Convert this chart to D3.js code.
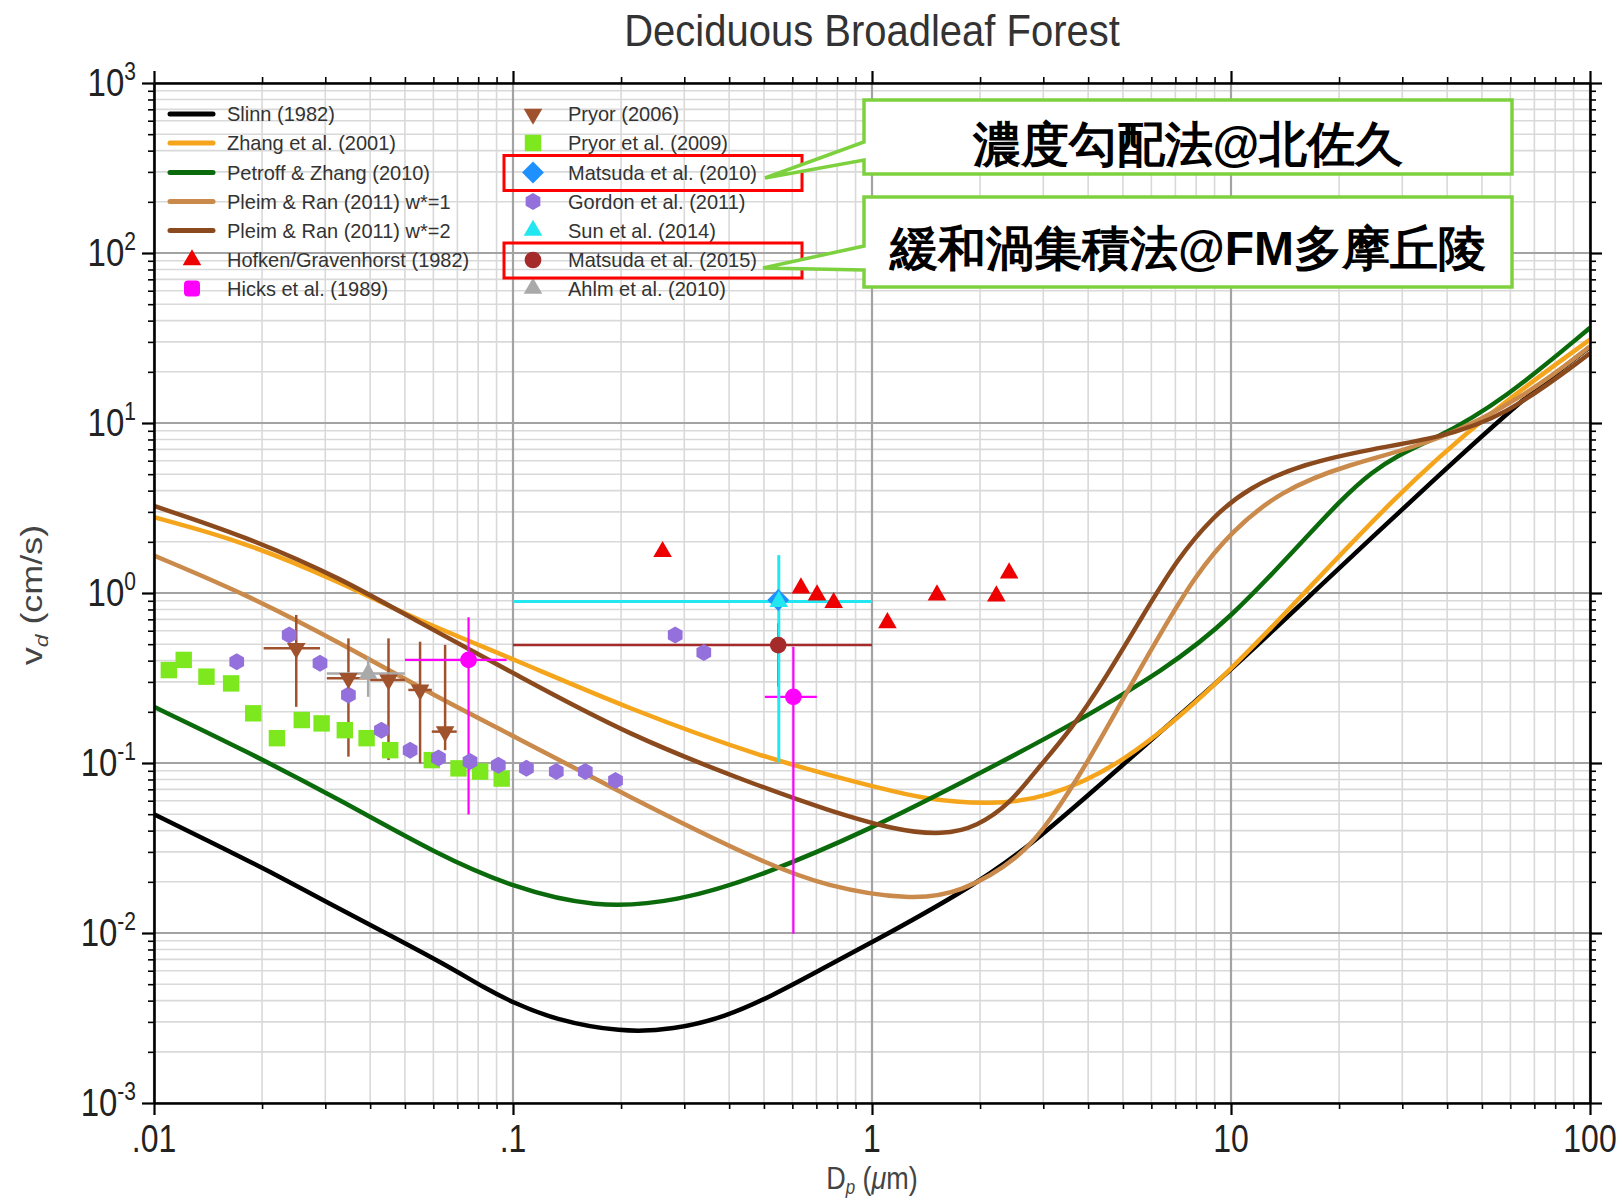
<!DOCTYPE html>
<html>
<head>
<meta charset="utf-8">
<script src="https://cdn.jsdelivr.net/npm/d3@7"></script>
<style>
  html, body { margin: 0; padding: 0; background: #fff; }
  svg { display: block; }
  text { font-family: "Liberation Sans", Arial, Helvetica, sans-serif; }
</style>
</head>
<body>
<div id="chart"></div>
<script>
// model curves, [Dp (um), vd (cm/s)]
const slinn = [[0.01,0.050],[0.0145,0.034],[0.021,0.023],[0.031,0.0148],[0.045,0.0098],[0.065,0.0065],[0.084,0.0047],[0.1,0.0039],[0.13,0.0031],[0.2,0.0026],[0.28,0.0027],[0.39,0.0032],[0.53,0.0043],[0.72,0.0061],[1.0,0.0088],[1.76,0.017],[2.7,0.031],[5.0,0.098],[10,0.35],[17.7,1.1],[37,4.7],[66,14.3],[100,28]];
const zhang = [[0.01,2.79],[0.018,1.99],[0.0333,1.15],[0.0543,0.69],[0.1,0.41],[0.21,0.208],[0.5,0.107],[0.93,0.076],[1.42,0.0605],[2.15,0.057],[3.05,0.0617],[5.0,0.098],[8.9,0.272],[15.7,0.955],[28,3.52],[50,10.7],[100,31]];
const petroff = [[0.01,0.214],[0.018,0.118],[0.0333,0.06],[0.0615,0.029],[0.1,0.0185],[0.169,0.014],[0.285,0.0152],[0.5,0.0219],[1.0,0.0413],[1.76,0.0759],[3.34,0.153],[6.68,0.362],[10,0.714],[15.7,1.97],[24.9,5.71],[37.2,8.02],[57.3,13.6],[100,36.3]];
const pleim1 = [[0.01,1.66],[0.018,0.986],[0.0333,0.504],[0.0615,0.243],[0.1,0.145],[0.21,0.0632],[0.488,0.0263],[0.748,0.0187],[1.28,0.0156],[1.76,0.0171],[2.59,0.0275],[3.16,0.0468],[3.98,0.1],[5.01,0.24],[6.31,0.562],[7.94,1.26],[10,2.29],[13.7,3.98],[21,5.71],[37.2,7.64],[66.1,14.3],[100,28.2]];
const pleim2 = [[0.01,3.25],[0.018,2.15],[0.0333,1.22],[0.0543,0.676],[0.1,0.339],[0.21,0.145],[0.488,0.0726],[0.748,0.053],[1.15,0.0404],[1.58,0.0377],[1.96,0.0422],[2.43,0.058],[2.82,0.0871],[3.63,0.162],[4.47,0.316],[5.62,0.708],[7.08,1.585],[8.91,2.82],[11.2,4.17],[15.8,5.75],[25.1,7.08],[37.2,8.13],[57.3,10.7],[100,25.7]];

// measurements, [Dp, vd]
const hofken = [[0.261,1.75],[0.634,1.07],[0.703,0.973],[0.782,0.877],[1.104,0.668],[1.517,0.973],[2.22,0.96],[2.41,1.31]];
const pryor2009 = [[0.011,0.352],[0.0121,0.404],[0.014,0.322],[0.0164,0.294],[0.0189,0.196],[0.022,0.14],[0.0258,0.179],[0.0293,0.171],[0.034,0.156],[0.0391,0.14],[0.0455,0.119],[0.0594,0.104],[0.0705,0.093],[0.081,0.089],[0.093,0.081]];
const gordon = [[0.017,0.394],[0.0238,0.566],[0.029,0.386],[0.0348,0.251],[0.043,0.156],[0.0517,0.119],[0.062,0.107],[0.0759,0.102],[0.091,0.097],[0.109,0.093],[0.132,0.089],[0.159,0.089],[0.193,0.079],[0.283,0.566],[0.34,0.446]];
const matsuda2010 = [[0.548,0.91]];

// with error bars, [Dp, vd, DpLo, DpHi, vdLo, vdHi]
const pryor2006 = [[0.0249,0.473,0.0202,0.029,0.214,0.743],[0.0348,0.315,0.0303,0.04,0.109,0.541],[0.045,0.308,0.04,0.05,0.104,0.541],[0.0551,0.269,0.0511,0.0594,0.0996,0.517],[0.0647,0.153,0.0594,0.0697,0.119,0.495]];
const ahlm = [[0.0395,0.336,0.0303,0.05,0.245,0.422]];
const hicks = [[0.0752,0.404,0.05,0.096,0.0498,0.72],[0.604,0.245,0.503,0.702,0.0099,0.483]];
const sun = [[0.55,0.89,0.1,1.0,0.101,1.67]];
const matsuda2015 = [[0.548,0.494,0.1,1.0,0.281,0.664]];

const lineLabels = ["Slinn (1982)", "Zhang et al. (2001)", "Petroff & Zhang (2010)", "Pleim & Ran (2011) w*=1", "Pleim & Ran (2011) w*=2", "Hofken/Gravenhorst (1982)", "Hicks et al. (1989)"];
const pointLabels = ["Pryor (2006)", "Pryor et al. (2009)", "Matsuda et al. (2010)", "Gordon et al. (2011)", "Sun et al. (2014)", "Matsuda et al. (2015)", "Ahlm et al. (2010)"];
const xTickLabels = [".01", ".1", "1", "10", "100"];
const callouts = ["濃度勾配法@北佐久", "緩和渦集積法@FM多摩丘陵"];

const W = 1623, H = 1199;
const margin = { top: 83, right: 33, bottom: 96, left: 154 };

const x = d3.scaleLog().domain([0.01, 100]).range([margin.left, W - margin.right]);
const y = d3.scaleLog().domain([1e-3, 1e3]).range([H - margin.bottom, margin.top]);

const isMajor = d => Math.abs(Math.log10(d) - Math.round(Math.log10(d))) < 1e-6;

const svg = d3.select("#chart").append("svg")
    .attr("width", W)
    .attr("height", H)
    .attr("viewBox", `0 0 ${W} ${H}`);

svg.append("rect").attr("width", W).attr("height", H).attr("fill", "#fff");

svg.append("clipPath").attr("id", "plot")
  .append("rect")
    .attr("x", x.range()[0]).attr("y", y.range()[1])
    .attr("width", x.range()[1] - x.range()[0])
    .attr("height", y.range()[0] - y.range()[1]);

// grid
const xt = x.ticks(), yt = y.ticks();
const grid = svg.append("g");
grid.selectAll(".vmin").data(xt.filter(d => !isMajor(d))).join("line")
    .attr("x1", d => x(d)).attr("x2", d => x(d))
    .attr("y1", y.range()[1]).attr("y2", y.range()[0])
    .attr("stroke", "#d9d9d9").attr("stroke-width", 1.6);
grid.selectAll(".hmin").data(yt.filter(d => !isMajor(d))).join("line")
    .attr("y1", d => y(d)).attr("y2", d => y(d))
    .attr("x1", x.range()[0]).attr("x2", x.range()[1])
    .attr("stroke", "#d9d9d9").attr("stroke-width", 1.6);
grid.selectAll(".vmaj").data(xt.filter(isMajor)).join("line")
    .attr("x1", d => x(d)).attr("x2", d => x(d))
    .attr("y1", y.range()[1]).attr("y2", y.range()[0])
    .attr("stroke", "#a3a3a3").attr("stroke-width", 2.2);
grid.selectAll(".hmaj").data(yt.filter(isMajor)).join("line")
    .attr("y1", d => y(d)).attr("y2", d => y(d))
    .attr("x1", x.range()[0]).attr("x2", x.range()[1])
    .attr("stroke", "#a3a3a3").attr("stroke-width", 2.2);

// model curves
const line = d3.line()
    .x(d => x(d[0]))
    .y(d => y(d[1]))
    .curve(d3.curveBasis);

const models = [
  { data: slinn, color: "#000000" },
  { data: zhang, color: "#f5a51c" },
  { data: petroff, color: "#0b6a0b" },
  { data: pleim1, color: "#c98a4b" },
  { data: pleim2, color: "#8b4a1e" }
];

const curves = svg.append("g").attr("clip-path", "url(#plot)");
models.forEach(m => {
  curves.append("path")
      .datum(m.data)
      .attr("fill", "none")
      .attr("stroke", m.color)
      .attr("stroke-width", 4.5)
      .attr("stroke-linejoin", "round")
      .attr("d", line);
});

// error bars
function errorBars(rows, color, width) {
  const g = svg.append("g").attr("stroke", color).attr("stroke-width", width);
  rows.forEach(r => {
    g.append("line").attr("x1", x(r[2])).attr("x2", x(r[3])).attr("y1", y(r[1])).attr("y2", y(r[1]));
    g.append("line").attr("x1", x(r[0])).attr("x2", x(r[0])).attr("y1", y(r[4])).attr("y2", y(r[5]));
  });
}
errorBars(pryor2006, "#a0522d", 2.5);
errorBars(ahlm, "#a9a9a9", 2.5);
errorBars(hicks, "#ff00ff", 2.2);
errorBars(matsuda2015, "#a52a2a", 2.5);
errorBars(sun, "#22e6f0", 3);

// markers
function hexPath(r) {
  return d3.range(6).map(k => {
    const a = (-90 + 60 * k) * Math.PI / 180;
    return [r * Math.cos(a), r * Math.sin(a)];
  });
}
const hexLine = d3.line().curve(d3.curveLinearClosed);

const sym = {
  up: d3.symbol().type(d3.symbolTriangle).size(150),
  square: d3.symbol().type(d3.symbolSquare).size(270),
  circle: d3.symbol().type(d3.symbolCircle).size(220),
  diamond: d3.symbol().type(d3.symbolSquare).size(240)
};

function points(rows, kind, color) {
  const g = svg.append("g");
  rows.forEach(r => {
    const t = `translate(${x(r[0])},${y(r[1])})`;
    if (kind === "hex") {
      g.append("path").attr("d", hexLine(hexPath(8.5))).attr("transform", t).attr("fill", color);
    } else if (kind === "down") {
      g.append("path").attr("d", sym.up()).attr("transform", t + " rotate(180)").attr("fill", color);
    } else if (kind === "diamond") {
      g.append("path").attr("d", sym.diamond()).attr("transform", t + " rotate(45)").attr("fill", color);
    } else {
      g.append("path").attr("d", sym[kind]()).attr("transform", t).attr("fill", color);
    }
  });
}
points(pryor2009, "square", "#7de81e");
points(gordon, "hex", "#9370db");
points(pryor2006, "down", "#a0522d");
points(ahlm, "up", "#a9a9a9");
points(hicks, "circle", "#ff00ff");
points(matsuda2015, "circle", "#a52a2a");
points(matsuda2010, "diamond", "#1e90ff");
points(sun, "up", "#22e6f0");
points(hofken, "up", "#ee0000");

// axes: ticks outward on all four sides
const xMaj = xt.filter(isMajor), xMin = xt.filter(d => !isMajor(d));
const yMaj = yt.filter(isMajor), yMin = yt.filter(d => !isMajor(d));
const axes = [
  [d3.axisBottom(x), `translate(0,${y.range()[0]})`, xMaj, xMin],
  [d3.axisTop(x), `translate(0,${y.range()[1]})`, xMaj, xMin],
  [d3.axisLeft(y), `translate(${x.range()[0]},0)`, yMaj, yMin],
  [d3.axisRight(y), `translate(${x.range()[1]},0)`, yMaj, yMin]
];
axes.forEach(([ax, tr, maj, min]) => {
  svg.append("g").attr("transform", tr)
      .call(ax.tickValues(min).tickSizeInner(6).tickSizeOuter(0).tickFormat(""))
      .call(g => g.selectAll("line").attr("stroke", "#000").attr("stroke-width", 1.6))
      .call(g => g.select(".domain").remove());
  svg.append("g").attr("transform", tr)
      .call(ax.tickValues(maj).tickSizeInner(12).tickSizeOuter(0).tickFormat(""))
      .call(g => g.selectAll("line").attr("stroke", "#000").attr("stroke-width", 2.2))
      .call(g => g.select(".domain").attr("stroke", "#000").attr("stroke-width", 2.6));
});

// tick labels (the source figure is stretched vertically)
const labels = svg.append("g").attr("fill", "#222");
xMaj.forEach((d, i) => {
  labels.append("text")
      .attr("transform", `translate(${x(d)},1152) scale(1,1.2)`)
      .attr("text-anchor", "middle")
      .attr("font-size", 32)
      .text(xTickLabels[i]);
});
yMaj.forEach(d => {
  const t = labels.append("text")
      .attr("transform", `translate(136,${y(d) + 13}) scale(1,1.2)`)
      .attr("text-anchor", "end")
      .attr("font-size", 33);
  t.append("tspan").text("10");
  t.append("tspan").attr("font-size", 21).attr("dy", -13).text(String(Math.round(Math.log10(d))));
});

// axis titles
const xTitle = svg.append("text")
    .attr("transform", "translate(872,1189) scale(1,1.15)")
    .attr("text-anchor", "middle").attr("font-size", 27).attr("fill", "#444");
xTitle.append("tspan").text("D");
xTitle.append("tspan").attr("font-size", 17).attr("font-style", "italic").attr("dy", 4).text("p");
xTitle.append("tspan").attr("dy", -4).text(" (");
xTitle.append("tspan").attr("font-style", "italic").text("μ");
xTitle.append("tspan").text("m)");

const yTitle = svg.append("text")
    .attr("transform", "translate(42,595) rotate(-90) scale(1.2,1)")
    .attr("text-anchor", "middle").attr("font-size", 30).attr("fill", "#444");
yTitle.append("tspan").text("v");
yTitle.append("tspan").attr("font-size", 19).attr("font-style", "italic").attr("dy", 6).text("d");
yTitle.append("tspan").attr("dy", -6).text(" (cm/s)");

svg.append("text")
    .attr("transform", "translate(872,46) scale(1,1.12)")
    .attr("text-anchor", "middle").attr("font-size", 40).attr("fill", "#333")
    .text("Deciduous Broadleaf Forest");

// legend
const rowY = [114, 143, 172.5, 201.5, 230.5, 260, 288.5];
const leg = svg.append("g");
models.forEach((m, i) => {
  leg.append("line").attr("x1", 170).attr("x2", 213).attr("y1", rowY[i]).attr("y2", rowY[i])
      .attr("stroke", m.color).attr("stroke-width", 5).attr("stroke-linecap", "round");
});
leg.append("path").attr("d", sym.up()).attr("transform", `translate(192,${rowY[5]})`).attr("fill", "#ee0000");
leg.append("rect").attr("x", 184).attr("y", rowY[6] - 8).attr("width", 16).attr("height", 16).attr("rx", 4).attr("fill", "#ff00ff");
lineLabels.forEach((s, i) => {
  leg.append("text").attr("transform", `translate(227,${rowY[i] + 7}) scale(1,1.05)`)
      .attr("font-size", 20).attr("fill", "#333").text(s);
});

const c2 = 533;
leg.append("path").attr("d", sym.up()).attr("transform", `translate(${c2},${rowY[0]}) rotate(180)`).attr("fill", "#a0522d");
leg.append("path").attr("d", sym.square()).attr("transform", `translate(${c2},${rowY[1]})`).attr("fill", "#7de81e");
leg.append("path").attr("d", sym.diamond()).attr("transform", `translate(${c2},${rowY[2]}) rotate(45)`).attr("fill", "#1e90ff");
leg.append("path").attr("d", hexLine(hexPath(8.5))).attr("transform", `translate(${c2},${rowY[3]})`).attr("fill", "#9370db");
leg.append("path").attr("d", sym.up()).attr("transform", `translate(${c2},${rowY[4]})`).attr("fill", "#22e6f0");
leg.append("path").attr("d", sym.circle()).attr("transform", `translate(${c2},${rowY[5]})`).attr("fill", "#a52a2a");
leg.append("path").attr("d", sym.up()).attr("transform", `translate(${c2},${rowY[6]})`).attr("fill", "#a9a9a9");
pointLabels.forEach((s, i) => {
  leg.append("text").attr("transform", `translate(568,${rowY[i] + 7}) scale(1,1.05)`)
      .attr("font-size", 20).attr("fill", "#333").text(s);
});

// highlight boxes round the two Matsuda entries
[rowY[2], rowY[5]].forEach(cy => {
  svg.append("rect").attr("x", 504).attr("y", cy - 17).attr("width", 298).attr("height", 35)
      .attr("fill", "none").attr("stroke", "#ff0000").attr("stroke-width", 3);
});

// callouts
const boxes = [
  { y0: 100, y1: 174, a: 142, b: 160, tipX: 765, tipY: 178, base: 161 },
  { y0: 197, y1: 287, a: 246, b: 270, tipX: 763, tipY: 268, base: 265 }
];
boxes.forEach((b, i) => {
  svg.append("path")
      .attr("d", `M864,${b.y0} H1512 V${b.y1} H864 V${b.b} L${b.tipX},${b.tipY} L864,${b.a} Z`)
      .attr("fill", "#fff").attr("stroke", "#7dd13e").attr("stroke-width", 3.5)
      .attr("stroke-linejoin", "miter");
  svg.append("text")
      .attr("x", 1188).attr("y", b.base)
      .attr("text-anchor", "middle")
      .attr("font-family", "'Noto Sans CJK JP', 'Noto Sans CJK SC', sans-serif")
      .attr("font-weight", 700).attr("font-size", 48).attr("fill", "#000")
      .text(callouts[i]);
});
</script>
</body>
</html>
